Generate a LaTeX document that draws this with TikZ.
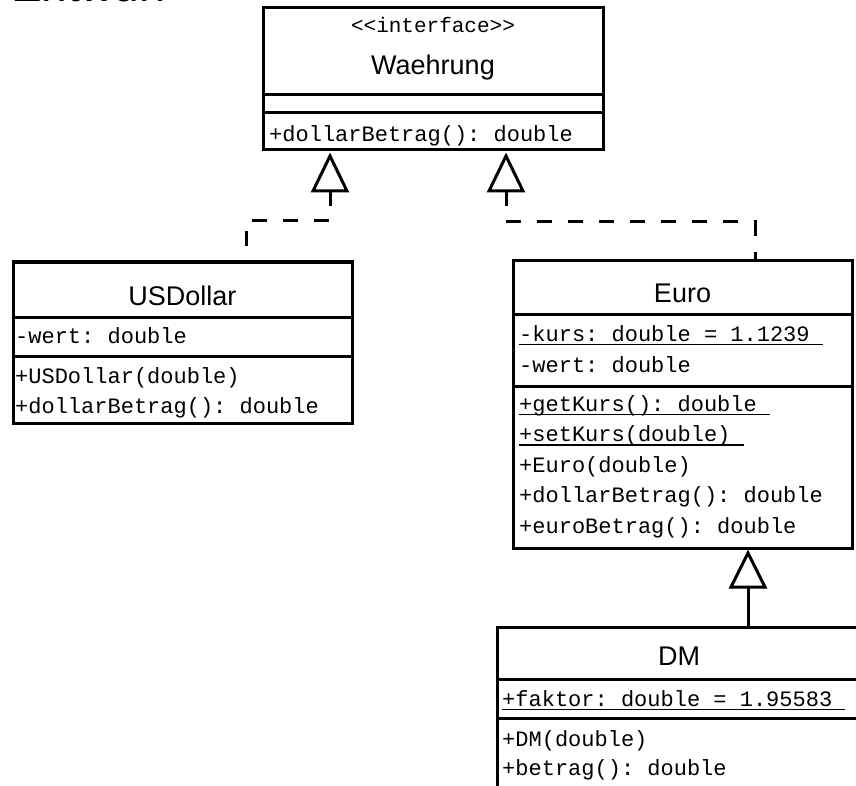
\documentclass[tikz,border=0pt]{standalone}
\usepackage{fontspec}
\setmainfont{Liberation Sans}
\setmonofont{Liberation Mono}
\newcommand\ulx[1]{\setbox0=\hbox{#1}\rlap{\rule[-4pt]{\wd0}{1.5pt}}\box0}
\begin{document}
\begin{tikzpicture}[x=1pt,y=-1pt,
  umlbox/.style={draw, line width=3pt, rectangle, inner sep=0pt, outer sep=0pt, anchor=north west},
  sepline/.style={line width=3pt},
  mono/.style={font=\ttfamily\fontsize{22}{22}\selectfont, inner sep=0pt, anchor=base west},
  stereo/.style={font=\ttfamily\fontsize{21}{21}\selectfont, inner sep=0pt, anchor=base},
  cname/.style={font=\fontsize{27}{27}\selectfont, inner sep=0pt, anchor=base},
  dep/.style={line width=3pt, dash pattern=on 15pt off 16pt},
  gen/.style={line width=3pt},
  tri/.style={line width=3pt, fill=white, line join=miter}]

\useasboundingbox (0,0) rectangle (856,786);

% title (mostly cut off)
\node[font=\fontsize{46}{46}\selectfont, anchor=base west, inner sep=0pt] (title) at (11,2) {Entwurf};

% boxes
\node[umlbox, minimum width=340pt, minimum height=142pt] (wae) at (263,8) {};
\node[umlbox, minimum width=339pt, minimum height=161pt] (usd) at (13,262) {};
\node[umlbox, minimum width=339pt, minimum height=287pt] (euro) at (513,261) {};
\node[umlbox, minimum width=364pt, minimum height=170pt] (dm) at (497,627) {};

% compartment lines
\draw[sepline] (wae.west |- 0,95) -- (wae.east |- 0,95);
\draw[sepline] (wae.west |- 0,113) -- (wae.east |- 0,113);
\draw[sepline] (usd.west |- 0,317) -- (usd.east |- 0,317);
\draw[sepline] (usd.west |- 0,356) -- (usd.east |- 0,356);
\draw[sepline] (euro.west |- 0,314) -- (euro.east |- 0,314);
\draw[sepline] (euro.west |- 0,386) -- (euro.east |- 0,386);
\draw[sepline] (dm.west |- 0,679) -- (dm.east |- 0,679);
\draw[sepline] (dm.west |- 0,718) -- (dm.east |- 0,718);

% Waehrung texts
\node[stereo] (wst) at (433,33) {<\kern0pt<interface>\kern0pt>};
\node[cname] (wname) at (433,75) {Waehrung};
\node[mono] (wm1) at (269,142) {+dollarBetrag(): double};

% USDollar texts
\node[cname] (uname) at (182.5,305) {USDollar};
\node[mono] (ua1) at (15,343) {-wert: double};
\node[mono] (um1) at (15,383) {+USDollar(double)};
\node[mono] (um2) at (15,413) {+dollarBetrag(): double};

% Euro texts
\node[cname] (ename) at (682.5,302) {Euro};
\node[mono] (ea1) at (519,341) {\ulx{-kurs: double = 1.1239\ }};
\node[mono] (ea2) at (519,372) {-wert: double};
\node[mono] (em1) at (519,411) {\ulx{+getKurs(): double\ }};
\node[mono] (em2) at (519,441.5) {\ulx{+setKurs(double)\ }};
\node[mono] (em3) at (519,472) {+Euro(double)};
\node[mono] (em4) at (519,502.5) {+dollarBetrag(): double};
\node[mono] (em5) at (519,533) {+euroBetrag(): double};

% DM texts
\node[cname] (dname) at (679,665) {DM};
\node[mono] (da1) at (502,706) {\ulx{+faktor: double = 1.95583\ }};
\node[mono] (dm1) at (502,746) {+DM(double)};
\node[mono] (dm2) at (502,775) {+betrag(): double};

% realization USDollar -> Waehrung
\coordinate (a1) at (330,156);
\coordinate (a1b) at (330,191);
\coordinate (k1) at (246,221);
\draw[dep] (a1b) |- (k1) -- (k1 |- usd.north);
\draw[tri] (a1) -- ++(-17,35) -- ++(34,0) -- cycle;

% realization Euro -> Waehrung
\coordinate (a2) at (506,156);
\coordinate (a2b) at (506,191);
\coordinate (k2) at (755,222);
\draw[dep] (a2b) |- (k2) -- (k2 |- euro.north);
\draw[tri] (a2) -- ++(-17,35) -- ++(34,0) -- cycle;

% generalization DM -> Euro
\coordinate (a3) at (748,553);
\coordinate (a3b) at (748,587);
\draw[gen] (a3b) -- (a3b |- dm.north);
\draw[tri] (a3) -- ++(-17,34) -- ++(34,0) -- cycle;
\end{tikzpicture}
\end{document}
